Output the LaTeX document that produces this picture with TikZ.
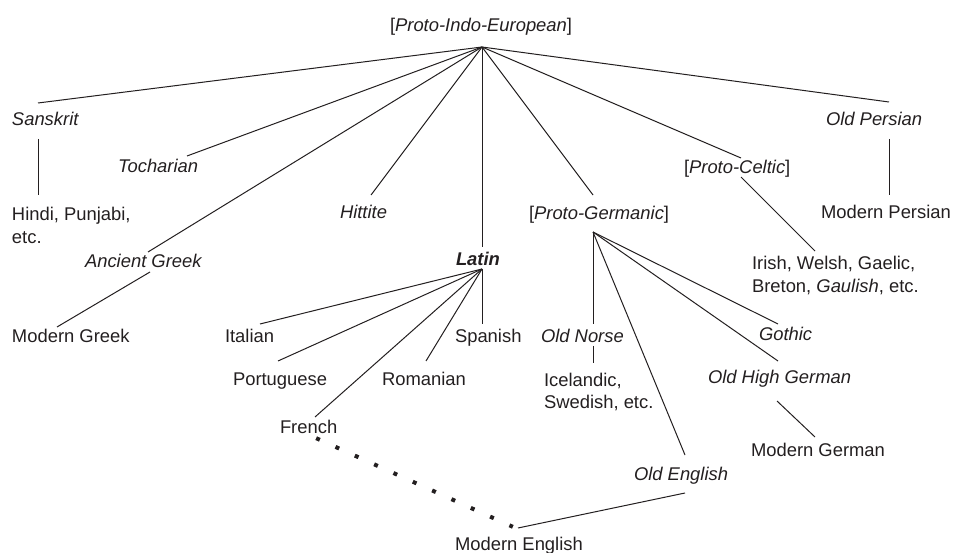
\documentclass[tikz,border=0pt]{standalone}
\usepackage{fontspec}
\setmainfont{Liberation Sans}
\usetikzlibrary{calc}
\definecolor{ink}{HTML}{231F20}
\newcommand{\mytwolines}[2]{\vtop{\hbox{#1}\hbox{#2}}}
\begin{document}
\begin{tikzpicture}[x=1pt,y=-1pt,
  lbl/.style={anchor=base west,inner sep=0pt,outer sep=0pt,text=ink,
    font=\fontsize{18.4}{22.5}\selectfont},
  conn/.style={draw=ink,line width=1pt},
  dots/.style={draw=ink,line width=4pt,line cap=butt,dash pattern=on 4pt off 17.2pt}]
\useasboundingbox (0,0) rectangle (956,553);
% texts
\node[lbl] (pie) at (390,32) {[\textit{Proto-Indo-European}]};
\node[lbl] (san) at (12,126) {\textit{Sanskrit}};
\node[lbl] (toc) at (118,173) {\textit{Tocharian}};
\node[lbl] (hit) at (340,219) {\textit{Hittite}};
\node[lbl] (hin) at (12,221) {\mytwolines{Hindi, Punjabi,}{etc.}};
\node[lbl] (agr) at (85,268) {\textit{Ancient Greek}};
\node[lbl] (mgr) at (12,343) {Modern Greek};
\node[lbl] (lat) at (456,266) {\textbf{\textit{Latin}}};
\node[lbl] (ita) at (225,343) {Italian};
\node[lbl] (spa) at (455,343) {Spanish};
\node[lbl] (por) at (233,385) {Portuguese};
\node[lbl] (rom) at (382,385) {Romanian};
\node[lbl] (fre) at (280,433) {French};
\node[lbl] (men) at (455,550) {Modern English};
\node[lbl] (pgm) at (529,220) {[\textit{Proto-Germanic}]};
\node[lbl] (ono) at (541,342) {\textit{Old Norse}};
\node[lbl] (ice) at (544,386) {\mytwolines{Icelandic,}{Swedish, etc.}};
\node[lbl] (got) at (759,341) {\textit{Gothic}};
\node[lbl] (ohg) at (708,383) {\textit{Old High German}};
\node[lbl] (oen) at (634,480) {\textit{Old English}};
\node[lbl] (mge) at (751,456) {Modern German};
\node[lbl] (pce) at (684,174) {[\textit{Proto-Celtic}]};
\node[lbl] (iri) at (752,270) {\mytwolines{Irish, Welsh, Gaelic,}{Breton, \textit{Gaulish}, etc.}};
\node[lbl] (ope) at (826,126) {\textit{Old Persian}};
\node[lbl] (mpe) at (821,219) {Modern Persian};
% connector ends
\coordinate (pieB) at (482,47);
\coordinate (sanT) at (38,103);
\coordinate (sanB) at (38,139);
\coordinate (hinT) at (38,195);
\coordinate (tocT) at (187,156);
\coordinate (agrT) at (148,252);
\coordinate (agrB) at (150,272);
\coordinate (mgrT) at (57,327);
\coordinate (hitT) at (371,195);
\coordinate (latT) at (482,247);
\coordinate (latB) at (482,269);
\coordinate (itaT) at (260,324);
\coordinate (porT) at (278,361);
\coordinate (freT) at (315,417);
\coordinate (romT) at (426,361);
\coordinate (spaT) at (482,324);
\coordinate (freB) at (318,439);
\coordinate (menT) at (511,526);
\coordinate (menR) at (518,528);
\coordinate (pgmT) at (593,195);
\coordinate (pgmB) at (593,232);
\coordinate (onoT) at (593,324);
\coordinate (onoB) at (593,346);
\coordinate (iceT) at (593,363);
\coordinate (oenT) at (685,455);
\coordinate (oenB) at (685,493);
\coordinate (ohgT) at (778,361);
\coordinate (ohgB) at (777,401);
\coordinate (mgeT) at (815,437);
\coordinate (gotT) at (778,324);
\coordinate (pceT) at (741,158);
\coordinate (pceB) at (741,177);
\coordinate (iriT) at (815,251);
\coordinate (opeT) at (889,102);
\coordinate (opeB) at (889,139);
\coordinate (mpeT) at (889,195);
% connectors
\foreach \t in {sanT,tocT,agrT,hitT,latT,pgmT,pceT,opeT}
  \draw[conn] (pieB) -- (\t);
\draw[conn] (sanB) -- (hinT);
\draw[conn] (agrB) -- (mgrT);
\foreach \t in {itaT,porT,freT,romT,spaT}
  \draw[conn] (latB) -- (\t);
\foreach \t in {onoT,oenT,ohgT,gotT}
  \draw[conn] (pgmB) -- (\t);
\draw[conn] (onoB) -- (iceT);
\draw[conn] (ohgB) -- (mgeT);
\draw[conn] (oenB) -- (menR);
\draw[conn] (pceB) -- (iriT);
\draw[conn] (opeB) -- (mpeT);
\draw[dots] ($(freB)!-2pt!(menT)$) -- ($(menT)!-2pt!(freB)$);
\end{tikzpicture}
\end{document}
